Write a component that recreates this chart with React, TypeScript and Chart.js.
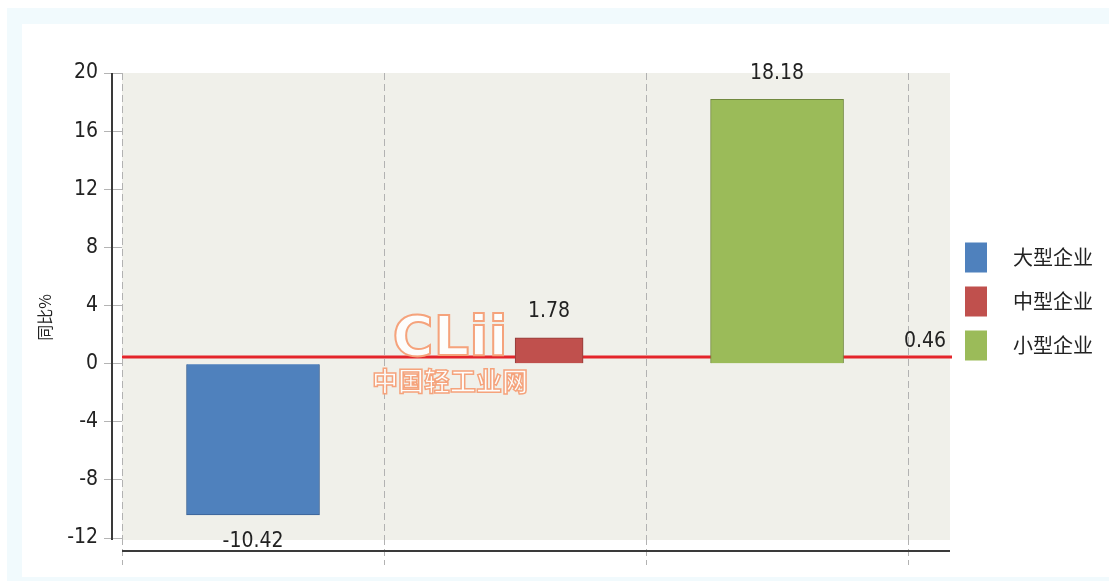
import React, { useEffect, useRef } from 'react';
import { Chart, registerables } from 'chart.js';

Chart.register(...registerables);

// ---- data ----
const categories = ['大型企业', '中型企业', '小型企业'];
const values = [-10.42, 1.78, 18.18];
const valueLabels = ['-10.42', '1.78', '18.18'];
const referenceValue = 0.46;
const referenceLabel = '0.46';
const yMin = -12;
const yMax = 20;
const yStep = 4;
const yAxisTitle = '同比%';
const watermarkMark = 'CLii';
const watermarkText = '中国轻工业网';

// ---- styles ----
const FILLS = ['#4f81bd', '#c0504d', '#9bbb59'];
const BORDERS = ['#3a6194', '#8f3b38', '#71893f'];
const BAR_THICKNESS = [133, 68, 133];
const BAR_NUDGE = [0, 0.13, 0];
const PLOT_BG = '#f0f0ea';
const NUM_FONT = "'DejaVu Sans Condensed', 'Liberation Sans', sans-serif";
const CJK_FONT = "'Noto Sans CJK SC', 'Noto Sans', sans-serif";
const TEXT = '#222222';

const decor = {
  id: 'decor',
  beforeDraw(chart: any) {
    const { ctx, chartArea: a } = chart;
    ctx.save();
    ctx.fillStyle = PLOT_BG;
    ctx.fillRect(a.left, a.top, a.right - a.left, a.bottom - a.top + 2);
    ctx.restore();
  },
  beforeDatasetsDraw(chart: any) {
    const { ctx, chartArea: a } = chart;
    const y = chart.scales.y.getPixelForValue(referenceValue);
    ctx.save();
    ctx.strokeStyle = '#e4252b';
    ctx.lineWidth = 3;
    ctx.beginPath();
    ctx.moveTo(a.left, y);
    ctx.lineTo(a.right + 2, y);
    ctx.stroke();
    ctx.restore();
  },
  afterDraw(chart: any) {
    const { ctx, chartArea: a } = chart;
    const yScale = chart.scales.y;
    ctx.save();
    // y axis line
    ctx.strokeStyle = '#3a3a3a';
    ctx.lineWidth = 2;
    ctx.beginPath();
    ctx.moveTo(a.left - 10, yScale.getPixelForValue(yMax));
    ctx.lineTo(a.left - 10, a.bottom + 2);
    ctx.stroke();
    // bottom axis line
    ctx.beginPath();
    ctx.moveTo(a.left, a.bottom + 13);
    ctx.lineTo(a.right, a.bottom + 13);
    ctx.stroke();

    // value labels
    ctx.fillStyle = TEXT;
    ctx.font = `21px ${NUM_FONT}`;
    ctx.textAlign = 'center';
    ctx.textBaseline = 'middle';
    chart.data.datasets.forEach((ds: any, i: number) => {
      const el = chart.getDatasetMeta(i).data[0];
      if (!el) return;
      const ty = values[i] >= 0 ? el.y - 26 : el.y + 27;
      ctx.fillText(valueLabels[i], el.x, ty);
    });

    // reference label
    const ry = yScale.getPixelForValue(referenceValue);
    ctx.textAlign = 'right';
    ctx.fillText(referenceLabel, a.right - 4, ry - 15);

    // y title
    ctx.save();
    ctx.translate(a.left - 77, (a.top + a.bottom) / 2 + 12);
    ctx.rotate(-Math.PI / 2);
    ctx.textAlign = 'center';
    ctx.font = `16px ${CJK_FONT}`;
    ctx.fillText(yAxisTitle, 0, 0);
    ctx.restore();

    // legend
    const midY = (a.top + a.bottom) / 2;
    categories.forEach((c, i) => {
      const bx = a.right + 15;
      const by = midY - 63 + i * 44;
      ctx.fillStyle = FILLS[i];
      ctx.fillRect(bx, by, 22, 30);
      ctx.fillStyle = TEXT;
      ctx.textAlign = 'left';
      ctx.textBaseline = 'middle';
      ctx.font = `20px ${CJK_FONT}`;
      ctx.fillText(c, bx + 48, by + 15);
    });

    // watermark
    const wx = a.left + 328;
    const wy = yScale.getPixelForValue(0) - 47;
    ctx.textAlign = 'center';
    ctx.textBaseline = 'middle';
    ctx.font = `bold 56px 'DejaVu Sans', sans-serif`;
    ctx.fillStyle = 'rgba(255,255,255,0.85)';
    ctx.fillText(watermarkMark, wx, wy + 24);
    ctx.strokeStyle = '#f5a37c';
    ctx.lineWidth = 2;
    ctx.strokeText(watermarkMark, wx, wy + 24);
    ctx.font = `bold 26px ${CJK_FONT}`;
    ctx.fillText(watermarkText, wx, wy + 64);
    ctx.lineWidth = 1.5;
    ctx.strokeText(watermarkText, wx, wy + 64);
    ctx.restore();
  },
};

export default function App() {
  const ref = useRef<HTMLCanvasElement | null>(null);
  useEffect(() => {
    if (!ref.current) return;
    const chart = new Chart(ref.current, {
      type: 'bar',
      data: {
        datasets: categories.map((c, i) => ({
          label: c,
          data: [{ x: i + 0.5 + BAR_NUDGE[i], y: values[i] }],
          backgroundColor: FILLS[i],
          borderColor: BORDERS[i],
          borderWidth: 1,
          barThickness: BAR_THICKNESS[i],
          grouped: false,
        })) as any,
      },
      options: {
        animation: false,
        responsive: true,
        maintainAspectRatio: false,
        layout: { padding: { top: 49, right: 159, bottom: 0, left: 0 } },
        plugins: { legend: { display: false }, tooltip: { enabled: false } },
        scales: {
          x: {
            type: 'linear',
            min: 0,
            max: 3.16,
            offset: false,
            ticks: { display: false, stepSize: 1, includeBounds: false },
            grid: {
              offset: false,
              color: '#b2b2b2',
              lineWidth: 1,
              drawTicks: true,
              tickLength: 27,
              tickColor: '#b2b2b2',
              tickBorderDash: [7, 4],
            },
            border: { display: false, dash: [7, 4] },
            afterFit: (s: any) => { s.height = 39; },
          },
          y: {
            type: 'linear',
            min: yMin,
            max: yMax,
            ticks: {
              stepSize: yStep,
              padding: 6,
              color: TEXT,
              font: { family: NUM_FONT, size: 21 },
            },
            grid: {
              drawOnChartArea: false,
              drawTicks: true,
              tickLength: 18,
              tickColor: '#b4b4b4',
              color: '#b4b4b4',
            },
            border: { display: false },
            afterFit: (s: any) => { s.width = 100; },
          },
        },
      } as any,
      plugins: [decor],
    });
    return () => chart.destroy();
  }, []);

  return (
    <div style={{ position: 'fixed', left: 7, top: 8, right: 0, bottom: 0, background: '#f1fafd' }}>
      <div style={{ position: 'absolute', left: 15, top: 16, right: 0, bottom: 4, background: '#ffffff' }}>
        <canvas ref={ref} />
      </div>
    </div>
  );
}
